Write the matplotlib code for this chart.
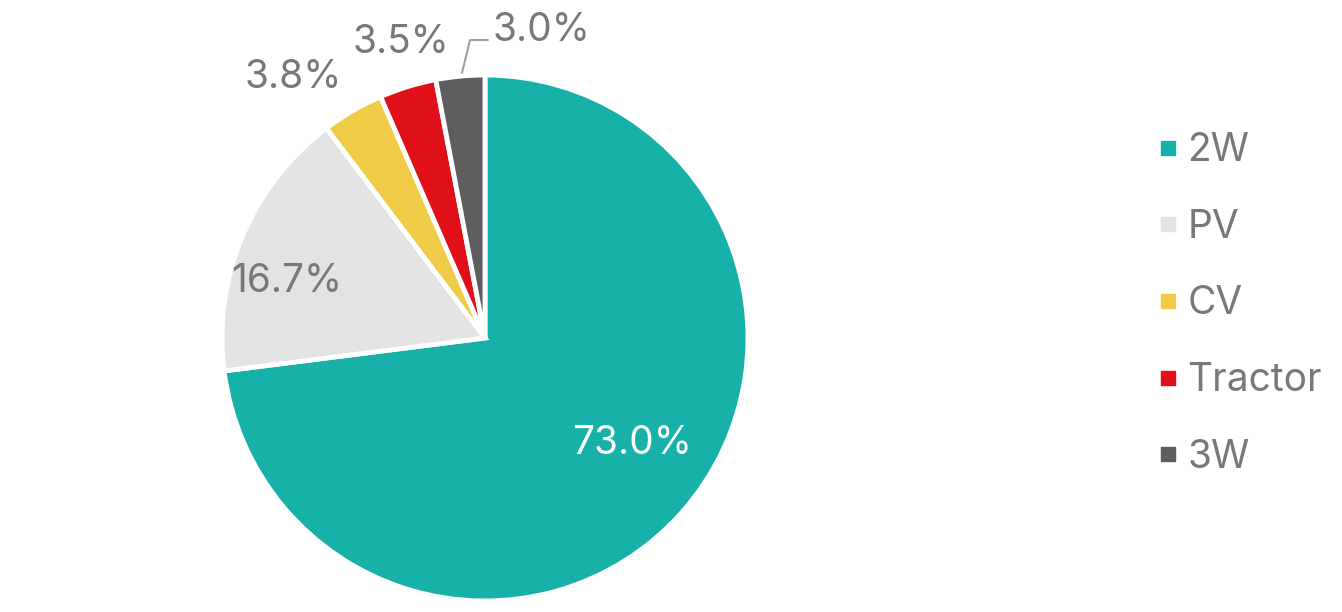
import matplotlib
matplotlib.use("Agg")
import matplotlib.pyplot as plt
from matplotlib.lines import Line2D
import numpy as np

categories = ["2W", "PV", "CV", "Tractor", "3W"]
shares = [73.0, 16.7, 3.8, 3.5, 3.0]
colors = ["#17B1A9", "#E3E3E3", "#F0CB47", "#E01019", "#5E5E5E"]

plt.rcParams['font.family'] = ['Inter', 'DejaVu Sans']
TXT = "#787878"
WEIGHT = "normal"

fig = plt.figure(figsize=(13.42, 6.12), dpi=100)
W, H = 1342, 612
cx, cy, R = 485, 338, 263
ax = fig.add_axes([(cx - R) / W, (H - cy - R) / H, 2 * R / W, 2 * R / H])
wedges, _ = ax.pie(shares, colors=colors, startangle=90, counterclock=False,
                   wedgeprops=dict(edgecolor="white", linewidth=3.5))
ax.set_xlim(-1, 1)
ax.set_ylim(-1, 1)
ax.set_aspect("equal")
ax.axis("off")

# label layout (in pie radius units)
label_xy = [(0.56, -0.40), (-0.755, 0.215), (-0.73, 0.99), (-0.32, 1.125), (0.215, 1.17)]
for i, (v, (x, y)) in enumerate(zip(shares, label_xy)):
    col = "white" if i == 0 else TXT
    ax.text(x, y, f"{v:.1f}%", ha="center", va="center", fontsize=28,
            color=col, fontweight=WEIGHT, clip_on=False)

# leader line for the smallest slice
ax.plot([-0.087, -0.057, 0.01], [1.01, 1.133, 1.133], color="#A0A0A0",
        lw=1.5, clip_on=False)

handles = [Line2D([0], [0], marker="s", linestyle="none", markersize=10,
                  markerfacecolor=c, markeredgecolor=c) for c in colors]
leg = fig.legend(handles, categories, loc="center left",
                 bbox_to_anchor=(1129 / W, (H - 304) / H), frameon=False,
                 fontsize=28, labelspacing=1.02, handletextpad=0.0,
                 handlelength=1.0, borderpad=0)
for t in leg.get_texts():
    t.set_color(TXT)
    t.set_fontweight(WEIGHT)

fig.savefig("out.png", dpi=100, facecolor="white")
